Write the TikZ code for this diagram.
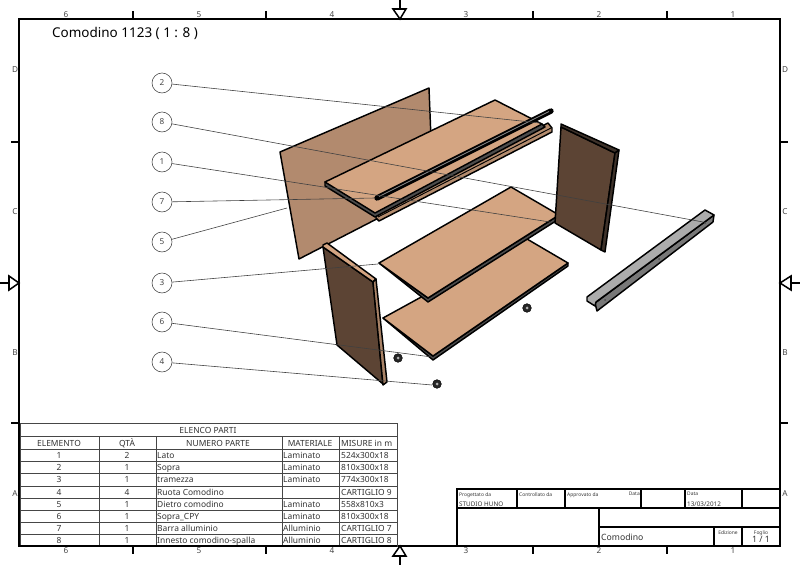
\documentclass[tikz,border=0pt]{standalone}
\usepackage{fontspec}
\setmainfont{Noto Sans}
\usepackage{xcolor}
\usetikzlibrary{positioning}
\definecolor{shelftan}{RGB}{212,165,130}
\definecolor{backtan}{RGB}{178,138,110}
\definecolor{sidebrown}{RGB}{92,68,52}
\definecolor{edgebrown}{RGB}{62,50,42}
\definecolor{barsteel}{RGB}{172,172,172}
\definecolor{barside}{RGB}{120,120,120}
\definecolor{inkgray}{RGB}{70,70,70}
\begin{document}
\begin{tikzpicture}[
    x=0.03cm, y=-0.03cm,
    frameline/.style={line width=1.7pt, black},
    tick/.style={line width=1.3pt, black},
    gridline/.style={line width=0.7pt, inkgray},
    zone/.style={font=\fontsize{7}{8}\selectfont, text=inkgray, inner sep=0pt},
    balloon/.style={circle, draw=inkgray, line width=0.5pt, fill=white, minimum size=0.6cm, inner sep=0pt, font=\fontsize{7}{8}\selectfont, text=inkgray},
    leader/.style={line width=0.5pt, black!75},
    part/.style={line width=1.25pt, black, line join=round},
    cell/.style={font=\fontsize{7.2}{8}\selectfont, text=black!80, inner sep=0pt, text height=1.6ex, text depth=0.4ex},
    celll/.style={cell, anchor=west},
    tiny cell/.style={font=\fontsize{4.2}{5}\selectfont, text=black!80, inner sep=0pt, anchor=west, text height=1.6ex, text depth=0.4ex},
    wheel/.style={circle, fill=black!85, draw=black, minimum size=0.26cm, inner sep=0pt}
]
\useasboundingbox (0,0) rectangle (800,565);

% sheet frame
\draw[frameline] (19,19) rectangle (780,546);
\foreach \x in {133,266,533,667} {
    \draw[tick] (\x,11) -- (\x,19);
    \draw[tick] (\x,546) -- (\x,554);
}
\foreach \y in {142,423} {
    \draw[tick] (11,\y) -- (19,\y);
    \draw[tick] (780,\y) -- (788,\y);
}
% centre marks
\draw[tick] (400,0) -- (400,9);
\draw[tick] (393,9) -- (406,9) -- (400,19) -- cycle;
\draw[tick] (400,556) -- (400,565);
\draw[tick] (393,556) -- (406,556) -- (400,546) -- cycle;
\draw[tick] (0,283) -- (9,283);
\draw[tick] (9,276) -- (9,290) -- (19,283) -- cycle;
\draw[tick] (791,283) -- (800,283);
\draw[tick] (791,276) -- (791,290) -- (780,283) -- cycle;

% zone labels
\foreach \x/\n in {66/6,199/5,332/4,466/3,599/2,733/1} {
    \node[zone] (top\n) at (\x,15) {\n};
    \node[zone] (bot\n) at (\x,551) {\n};
}
\foreach \y/\n in {70/D,212/C,353/B,494/A} {
    \node[zone] (lft\n) at (15,\y) {\n};
    \node[zone] (rgt\n) at (785,\y) {\n};
}

% title
\node[anchor=west, inner sep=0pt, font=\fontsize{11.5}{13}\selectfont] (title) at (52,33) {Comodino 1123 ( 1 : 8 )};

% back panel
\filldraw[part, fill=backtan] (280,152) -- (429,88) -- (433,190) -- (299,259) -- cycle;

% top shelf with rail
\filldraw[part, fill=shelftan!85!black] (376,213) -- (548,123) -- (552,128) -- (552,132) -- (379,221) -- (376,218) -- cycle;
\draw[line width=0.8pt, black] (378,217) -- (551,128);
\filldraw[part, fill=black!70] (325,182) -- (325,186) -- (375,217) -- (545,127) -- (542,124) -- cycle;
\filldraw[part, fill=shelftan] (325,182) -- (495,100) -- (542,124) -- (375,213) -- cycle;
\draw[line cap=round, line width=4.6pt, black] (377,198) -- (551,111);
\draw[line width=0.7pt, black!45] (379,196.5) -- (549,111.5);

% lower shelf
\filldraw[part, fill=black!70] (383,318) -- (433,360) -- (568,266) -- (568,263) -- (433,356) -- cycle;
\filldraw[part, fill=shelftan] (383,318) -- (527,239) -- (568,263) -- (433,356) -- cycle;

% middle shelf
\filldraw[part, fill=black!70] (379,263) -- (428,302) -- (559,219) -- (559,215) -- (428,298) -- cycle;
\filldraw[part, fill=shelftan] (379,263) -- (511,187) -- (559,215) -- (428,298) -- cycle;

% right side panel
\filldraw[part, fill=sidebrown] (561,127) -- (615,153) -- (601,250) -- (555,223) -- cycle;
\filldraw[part, fill=edgebrown] (561,124) -- (619,150) -- (615,153) -- (561,127) -- cycle;
\filldraw[part, fill=edgebrown] (615,153) -- (619,150) -- (605,252) -- (601,250) -- cycle;

% left side panel
\filldraw[part, fill=sidebrown] (323,247) -- (373,282) -- (383,384) -- (337,345) -- cycle;
\filldraw[part, fill=shelftan] (323,245) -- (327,243) -- (376,279) -- (373,282) -- (323,247) -- cycle;
\filldraw[part, fill=shelftan!80!black] (373,282) -- (376,279) -- (387,382) -- (383,385) -- cycle;

% aluminium profile
\filldraw[part, fill=barside] (595,303) -- (714,215) -- (713,222) -- (597,311) -- cycle;
\filldraw[part, fill=barsteel] (587,297) -- (705,210) -- (714,215) -- (596,302) -- (595,306) -- (587,301) -- cycle;
\fill[black!70] (605,300) circle (1) (659,259) circle (1) (705,223) circle (1);

% wheels
\node[wheel] (w1) at (398,358) {};
\node[wheel] (w2) at (437,384) {};
\node[wheel] (w3) at (527,308) {};
\foreach \w in {w1,w2,w3} {
    \fill[black!30] (\w) circle (1.5);
}

% balloons and leaders
\coordinate (t2) at (540,123);
\coordinate (t8) at (703,222);
\coordinate (t1) at (550,222);
\coordinate (t7) at (375,198);
\coordinate (t5) at (287,208);
\coordinate (t3) at (378,264);
\coordinate (t6) at (432,357);
\coordinate (t4) at (432,385);
\foreach \n/\y in {2/83,8/122,1/162,7/202,5/242,3/283,6/322,4/362} {
    \node[balloon] (b\n) at (162,\y) {\n};
    \draw[leader] (b\n) -- (t\n);
}

% parts list
\draw[gridline] (20,423) rectangle (397,546);
\foreach \y in {436,449,461,473,486,498,510,522,534} {
    \draw[gridline] (20,\y) -- (397,\y);
}
\foreach \x in {99,156,282,339} {
    \draw[gridline] (\x,436) -- (\x,546);
}
\draw[frameline] (19,546) -- (397,546);
\node[cell] (listhead) at (208,430) {ELENCO PARTI};
\node[cell] (hd1) at (59,443) {ELEMENTO};
\node[cell] (hd2) at (127,443) {QTÀ};
\node[cell] (hd3) at (218,443) {NUMERO PARTE};
\node[cell] (hd4) at (310,443) {MATERIALE};
\node[cell, anchor=west] (hd5) at (341,443) {MISURE in m};
\foreach \i/\y/\q/\nome/\mat/\mis in {
    1/455/2/Lato/Laminato/524x300x18,
    2/467/1/Sopra/Laminato/810x300x18,
    3/479/1/tramezza/Laminato/774x300x18,
    4/492/4/Ruota Comodino//CARTIGLIO 9,
    5/504/1/Dietro comodino/Laminato/558x810x3,
    6/516/1/Sopra\_CPY/Laminato/810x300x18,
    7/528/1/Barra alluminio/Alluminio/CARTIGLIO 7,
    8/540/1/Innesto comodino-spalla/Alluminio/CARTIGLIO 8} {
    \node[cell] (el\i) at (59,\y) {\i};
    \node[cell] (qt\i) at (127,\y) {\q};
    \node[celll] (nm\i) at (157,\y) {\nome};
    \node[celll] (mt\i) at (283,\y) {\mat};
    \node[celll] (ms\i) at (341,\y) {\mis};
}

% title block
\draw[frameline] (457,489) rectangle (780,546);
\draw[frameline] (457,508) -- (780,508);
\draw[frameline] (599,527) -- (780,527);
\draw[frameline] (599,508) -- (599,546);
\draw[frameline] (714,527) -- (714,546);
\draw[frameline] (742,527) -- (742,546);
\foreach \x in {517,565,641,685,742} {
    \draw[frameline] (\x,489) -- (\x,508);
}
\node[tiny cell] (prog) at (459,493) {Progettato da};
\node[tiny cell, font=\fontsize{5.4}{6}\selectfont] (studio) at (459,503) {STUDIO HUNO};
\node[tiny cell] (contr) at (519,493) {Controllato da};
\node[tiny cell] (appr) at (567,493) {Approvato da};
\node[tiny cell, anchor=east] (data1) at (640,492) {Data};
\node[tiny cell] (data2) at (687,492) {Data};
\node[tiny cell, font=\fontsize{5.4}{6}\selectfont] (date) at (687,503) {13/03/2012};
\node[cell, anchor=west, font=\fontsize{7.4}{9}\selectfont] (name) at (601,537) {Comodino};
\node[tiny cell, anchor=center] (ediz) at (728,531) {Edizione};
\node[tiny cell, anchor=center] (foglio) at (761,531) {Foglio};
\node[cell, font=\fontsize{7.5}{9}\selectfont] (sheet) at (761,539) {1 / 1};
\end{tikzpicture}
\end{document}
